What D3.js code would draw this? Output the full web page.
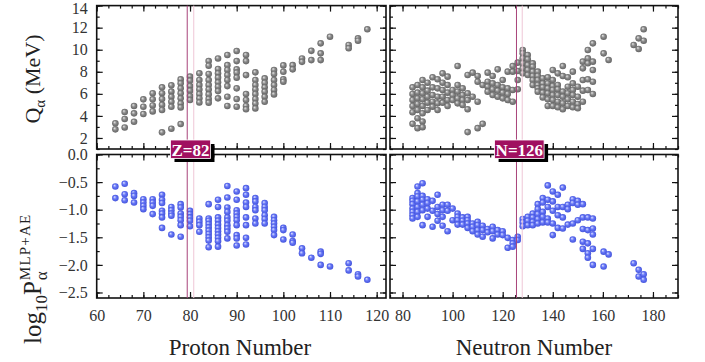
<!DOCTYPE html>
<html>
<head>
<meta charset="utf-8">
<script src="https://cdn.jsdelivr.net/npm/d3@7"></script>
<style>
  body { margin: 0; background: #fff; }
  svg text { font-family: "Liberation Serif", "DejaVu Serif", serif; }
</style>
</head>
<body>
<div class="chart"></div>
<script>

// each entry: [proton or neutron number, [values...]]
var protonQ = [
  [64, [3.33, 2.78]], [66, [4.35, 3.72, 2.95]], [68, [4.9, 4.23, 3.47]],
  [70, [5.5, 4.83, 4.17]], [72, [6.05, 5.5, 4.95, 4.41]],
  [74, [6.59, 6.05, 5.53, 5.0, 4.53, 2.51]], [76, [6.77, 6.2, 5.73, 5.28, 4.83, 2.84]],
  [78, [7.31, 6.95, 6.5, 6.05, 5.59, 5.13, 4.77, 3.26]],
  [80, [7.56, 7.2, 6.7, 6.29, 5.8, 5.44]],
  [82, [7.86, 7.25, 6.8, 6.4, 5.98, 5.59, 5.22]],
  [84, [8.97, 8.55, 7.8, 7.25, 6.8, 6.4, 5.95, 5.53, 5.2]],
  [86, [9.21, 8.25, 7.86, 7.47, 7.04, 6.65, 6.25, 5.59]],
  [88, [9.52, 8.6, 8.16, 7.7, 7.25, 6.7, 5.73, 4.9]],
  [90, [9.88, 8.97, 8.22, 7.92, 7.47, 6.5, 5.53, 4.83]],
  [92, [9.52, 8.97, 7.7, 5.98, 5.44, 4.9, 4.6]],
  [94, [7.95, 7.25, 6.8, 6.4, 5.98, 5.53, 5.13, 4.68]],
  [96, [7.4, 7.0, 6.59, 6.2, 5.73, 5.28]],
  [98, [8.16, 7.8, 7.25, 6.8, 6.35, 5.95]],
  [100, [8.58, 8.0, 7.31, 7.1]], [102, [8.6, 8.22]], [104, [9.21, 8.9]],
  [106, [9.9, 9.06]], [108, [10.58, 9.67, 9.06]], [110, [11.18]],
  [114, [10.43, 10.13]], [116, [11.03, 10.82]], [118, [11.85]]
];

var protonP = [
  [64, [-0.58, -0.79]], [66, [-0.53, -0.72, -0.83]], [68, [-0.70, -0.75, -0.87]],
  [70, [-0.81, -0.87, -0.93, -0.99]], [72, [-0.81, -0.87, -0.93, -1.08]],
  [74, [-0.73, -0.82, -0.88, -1.02, -1.07, -1.14, -1.33]],
  [76, [-0.95, -1.01, -1.07, -1.11, -1.45]],
  [78, [-0.90, -0.96, -1.07, -1.13, -1.19, -1.28, -1.49]],
  [80, [-1.02, -1.08, -1.14, -1.20, -1.30]],
  [82, [-1.16, -1.22, -1.28, -1.40]],
  [84, [-0.90, -1.16, -1.20, -1.26, -1.32, -1.38, -1.44, -1.50, -1.56, -1.68]],
  [86, [-0.82, -0.95, -1.14, -1.20, -1.27, -1.33, -1.39, -1.45, -1.51, -1.57, -1.67]],
  [88, [-0.57, -0.78, -0.96, -1.04, -1.14, -1.20, -1.28, -1.34, -1.40, -1.52]],
  [90, [-0.67, -0.82, -1.01, -1.07, -1.13, -1.19, -1.28, -1.46, -1.52, -1.65]],
  [92, [-0.61, -0.73, -0.87, -0.95, -1.14, -1.28, -1.51, -1.63]],
  [94, [-0.79, -0.85, -0.95, -1.01, -1.16, -1.25]],
  [96, [-0.88, -0.95, -1.01, -1.10, -1.17, -1.25]],
  [98, [-1.13, -1.19, -1.25, -1.31, -1.37, -1.46]],
  [100, [-1.33, -1.37, -1.54]], [102, [-1.45, -1.57, -1.60]],
  [104, [-1.70, -1.79]], [106, [-1.87]], [108, [-1.76, -1.80, -2.00]],
  [110, [-2.03]], [114, [-1.97, -2.10]], [116, [-2.17, -2.21]], [118, [-2.27]]
];

var neutronQ = [
  [84, [6.59, 5.99, 5.44, 4.90, 4.33, 3.28]],
  [86, [6.80, 6.11, 5.59, 5.08, 4.54, 3.79, 2.89]],
  [88, [7.25, 6.59, 6.05, 5.50, 4.90, 4.24, 3.49, 2.98]],
  [90, [7.01, 6.29, 5.74, 5.20, 4.54]],
  [92, [7.50, 6.59, 5.89, 5.29, 4.84]],
  [94, [7.32, 6.50, 5.74, 5.14, 4.54]],
  [96, [7.86, 7.01, 6.35, 5.74, 5.20]],
  [98, [7.56, 6.80, 6.11, 5.44, 4.90]],
  [100, [6.35, 5.89, 5.44]],
  [102, [8.52, 6.80, 6.20, 5.59, 5.14]],
  [104, [6.50, 5.89, 5.44, 4.99]],
  [106, [7.71, 6.05, 5.44, 4.60, 2.53]],
  [108, [7.92, 5.74]],
  [110, [7.62, 7.10, 5.29, 2.89]],
  [112, [6.80, 3.28]],
  [114, [7.92, 7.10, 6.65, 6.20]],
  [116, [7.62, 6.95, 6.41, 5.89]],
  [118, [8.22, 6.80, 6.29, 5.74]],
  [120, [7.25, 6.59, 6.11, 5.59]],
  [122, [8.01, 6.50, 5.99, 5.44]],
  [124, [8.52, 8.01, 6.35, 5.29]],
  [126, [8.83, 8.07, 7.25, 6.41]],
  [128, [9.97, 9.67, 9.22, 8.77, 8.31, 7.86]],
  [130, [9.52, 9.13, 8.61, 8.16, 7.71]],
  [132, [8.77, 8.46, 8.01, 7.62, 7.25, 6.80]],
  [134, [8.01, 7.62, 7.25, 6.80, 6.50, 6.20]],
  [136, [7.41, 6.95, 6.59, 6.11, 5.68]],
  [138, [7.50, 6.95, 6.50, 6.05, 5.50, 4.90]],
  [140, [8.16, 7.25, 6.71, 6.35, 5.89, 5.44, 4.90]],
  [142, [7.86, 6.80, 6.41, 5.89, 5.29, 4.78]],
  [144, [8.52, 7.62, 6.20, 5.74, 5.14, 4.60]],
  [146, [7.50, 6.65, 6.05, 5.50, 4.90]],
  [148, [8.01, 6.95, 6.35, 5.89, 5.29, 4.78]],
  [150, [6.65, 5.74, 5.08, 4.69]],
  [152, [8.92, 8.31, 7.25, 6.29, 5.29]],
  [154, [9.97, 9.22, 8.77, 7.32, 6.35]],
  [156, [10.58, 8.92, 8.16, 7.10, 5.99]],
  [160.3, [11.18, 9.67]], [162.3, [9.07]],
  [172.3, [10.43]], [174.3, [11.03, 10.07]], [176.3, [11.85, 10.82]]
];

var neutronP = [
  [84, [-0.79, -0.84, -0.90, -0.98, -1.04, -1.10, -1.16]],
  [86, [-0.58, -0.70, -0.76, -0.85, -0.95, -1.04, -1.13]],
  [88, [-0.52, -0.75, -0.82, -0.91, -1.01, -1.28]],
  [90, [-0.81, -0.88, -0.98, -1.13]],
  [92, [-0.84, -1.02, -1.31]],
  [94, [-0.73, -0.95, -1.08, -1.20]],
  [96, [-0.91, -1.01, -1.13, -1.29]],
  [98, [-0.91, -1.02, -1.39]],
  [100, [-0.98, -1.19]],
  [102, [-1.07, -1.13, -1.19, -1.27]],
  [104, [-1.14, -1.20, -1.27]],
  [106, [-1.13, -1.19, -1.25, -1.33]],
  [108, [-1.25, -1.31, -1.39]],
  [110, [-1.22, -1.28, -1.37, -1.45]],
  [112, [-1.29, -1.37, -1.49]],
  [114, [-1.35, -1.41]],
  [116, [-1.31, -1.39, -1.52]],
  [118, [-1.37, -1.45]],
  [120, [-1.39, -1.46]],
  [122, [-1.51, -1.69]],
  [124, [-1.55, -1.61, -1.67]],
  [126, [-1.49, -1.55]],
  [128, [-1.17, -1.23, -1.30]],
  [130, [-1.13, -1.20, -1.28]],
  [132, [-1.07, -1.14, -1.22, -1.28]],
  [134, [-0.90, -0.99, -1.08, -1.17, -1.25]],
  [136, [-0.79, -0.87, -1.04, -1.13, -1.23]],
  [138, [-0.56, -0.82, -0.95, -1.16, -1.23]],
  [140, [-0.67, -0.85, -1.02, -1.25, -1.46]],
  [142, [-0.73, -0.95, -1.10, -1.33]],
  [144, [-0.60, -0.95, -1.14, -1.34]],
  [146, [-0.91, -0.99, -1.27]],
  [148, [-0.81, -0.88, -1.25, -1.54]],
  [150, [-0.84, -0.91, -1.19]],
  [152, [-0.90, -1.14, -1.35, -1.58, -1.71]],
  [154, [-1.14, -1.37, -1.61, -1.79, -1.87]],
  [156, [-1.16, -1.34, -1.45, -1.71, -2.00]],
  [160.3, [-1.76, -2.03]], [162.3, [-1.81]],
  [172.3, [-1.97]], [174.3, [-2.09, -2.21]], [176.3, [-2.17, -2.27]]
];

var protonTicks = [60, 70, 80, 90, 100, 110, 120];
var neutronTicks = [80, 100, 120, 140, 160, 180];
var qTicks = [2, 4, 6, 8, 10, 12, 14];
var pTicks = [0, -0.5, -1.0, -1.5, -2.0, -2.5];

var protonLines = [79.4, 80.8];
var neutronLines = [125.5, 127.8];
var shellLabels = ["Z=82", "N=126"];

var svg = d3.select(".chart").append("svg")
    .attr("width", 705)
    .attr("height", 362);

var defs = svg.append("defs");
makeBall("ballGray", "#e8e8e8", "#8a8a8a", "#5e5e5e");
makeBall("ballBlue", "#dfe3ff", "#6676f6", "#3f4fd8");

var xProton = d3.scaleLinear().domain([60, 122]).range([96.7, 386]);
var xNeutron = d3.scaleLinear().domain([75, 190]).range([390, 678]);
var yQ = d3.scaleLinear().domain([1, 14]).range([149, 5.6]);
var yP = d3.scaleLinear().domain([-2.6, 0]).range([298, 154.5]);

drawPanel(xProton, yQ, protonQ, "ballGray", d3.range(60, 122.1, 2.5), protonTicks, false, d3.range(1, 14.1, 1), qTicks, true, d3.format("d"));
drawPanel(xNeutron, yQ, neutronQ, "ballGray", d3.range(75, 190.1, 5), neutronTicks, false, d3.range(1, 14.1, 1), qTicks, false, null);
drawPanel(xProton, yP, protonP, "ballBlue", d3.range(60, 122.1, 2.5), protonTicks, true, d3.range(-2.5, 0.01, 0.25), pTicks, true, d3.format(".1f"));
drawPanel(xNeutron, yP, neutronP, "ballBlue", d3.range(75, 190.1, 5), neutronTicks, true, d3.range(-2.5, 0.01, 0.25), pTicks, false, null);

// keep the top "14" inside the page
svg.selectAll(".ylab .tick text")
    .filter(function(d){ return d === 14; })
    .attr("dy", "0.5em");

drawShell(xProton, protonLines, shellLabels[0]);
drawShell(xNeutron, neutronLines, shellLabels[1]);

// axis titles
svg.append("text")
    .attr("x", 240).attr("y", 355)
    .attr("text-anchor", "middle")
    .attr("font-size", 23)
    .attr("fill", "#222")
    .text("Proton Number");

svg.append("text")
    .attr("x", 534).attr("y", 355)
    .attr("text-anchor", "middle")
    .attr("font-size", 23)
    .attr("fill", "#222")
    .text("Neutron Number");

var qTitle = svg.append("text")
    .attr("transform", "translate(40,79) rotate(-90)")
    .attr("text-anchor", "middle")
    .attr("font-size", 22)
    .attr("fill", "#222");
qTitle.append("tspan").text("Q");
qTitle.append("tspan").attr("dy", 5).attr("font-size", 15).text("α");
qTitle.append("tspan").attr("dy", -5).text(" (MeV)");

var pg = svg.append("g")
    .attr("transform", "translate(41,344) rotate(-90)");
var pMain = pg.append("text")
    .attr("font-size", 25)
    .attr("fill", "#222");
pMain.append("tspan").text("log");
pMain.append("tspan").attr("dy", 6).attr("font-size", 17).text("10");
pMain.append("tspan").attr("dy", -6).text("P");
var pLen = pMain.node().getComputedTextLength();
pg.append("text")
    .attr("x", pLen + 1).attr("y", -11)
    .attr("font-size", 15)
    .attr("letter-spacing", 1.2)
    .attr("fill", "#222")
    .text("MLP+AE");
pg.append("text")
    .attr("x", pLen + 1).attr("y", 6)
    .attr("font-size", 17)
    .attr("fill", "#222")
    .text("α");


function makeBall(id, hi, mid, lo){
  var g = defs.append("radialGradient")
      .attr("id", id)
      .attr("cx", "50%").attr("cy", "50%").attr("r", "55%")
      .attr("fx", "35%").attr("fy", "32%");
  g.append("stop").attr("offset", "0%").attr("stop-color", hi);
  g.append("stop").attr("offset", "45%").attr("stop-color", mid);
  g.append("stop").attr("offset", "100%").attr("stop-color", lo);
}


function drawPanel(x, y, data, fill, xMinor, xMajor, xLabels, yMinor, yMajor, yLabels, yFmt){

  var x0 = x.range()[0], x1 = x.range()[1];
  var y0 = y.range()[1], y1 = y.range()[0];
  var g = svg.append("g");

  var pts = [];
  data.forEach(function(d){
    d[1].forEach(function(v){ pts.push([d[0], v]); });
  });

  g.selectAll("circle")
      .data(pts)
      .enter().append("circle")
      .attr("cx", function(d){ return x(d[0]); })
      .attr("cy", function(d){ return y(d[1]); })
      .attr("r", 3.3)
      .style("fill", "url(#" + fill + ")");

  // minor ticks, all four sides
  g.append("g").attr("transform", "translate(0," + y1 + ")")
      .call(d3.axisBottom(x).tickValues(xMinor).tickSize(-3).tickFormat(""));
  g.append("g").attr("transform", "translate(0," + y0 + ")")
      .call(d3.axisTop(x).tickValues(xMinor).tickSize(-3).tickFormat(""));
  g.append("g").attr("transform", "translate(" + x0 + ",0)")
      .call(d3.axisLeft(y).tickValues(yMinor).tickSize(-3).tickFormat(""));
  g.append("g").attr("transform", "translate(" + x1 + ",0)")
      .call(d3.axisRight(y).tickValues(yMinor).tickSize(-3).tickFormat(""));

  // major ticks
  g.append("g").attr("class", "xlab").attr("transform", "translate(0," + y1 + ")")
      .call(d3.axisBottom(x).tickValues(xMajor).tickSize(-6).tickPadding(12)
        .tickFormat(xLabels ? d3.format("d") : ""));
  g.append("g").attr("transform", "translate(0," + y0 + ")")
      .call(d3.axisTop(x).tickValues(xMajor).tickSize(-6).tickFormat(""));
  g.append("g").attr("class", "ylab").attr("transform", "translate(" + x0 + ",0)")
      .call(d3.axisLeft(y).tickValues(yMajor).tickSize(-6).tickPadding(9)
        .tickFormat(yLabels ? yFmt : ""));
  g.append("g").attr("transform", "translate(" + x1 + ",0)")
      .call(d3.axisRight(y).tickValues(yMajor).tickSize(-6).tickFormat(""));

  g.selectAll(".domain").remove();
  g.selectAll(".tick line").attr("stroke", "#111").attr("stroke-width", 1.2);
  g.selectAll(".tick text")
      .attr("font-family", "Liberation Serif")
      .attr("font-size", 16)
      .attr("fill", "#333");

  g.append("rect")
      .attr("x", x0).attr("y", y0)
      .attr("width", x1 - x0).attr("height", y1 - y0)
      .attr("fill", "none")
      .attr("stroke", "#111")
      .attr("stroke-width", 1.6);
}


function drawShell(x, lines, label){

  var g = svg.append("g");

  g.append("line")
      .attr("x1", x(lines[0])).attr("x2", x(lines[0]))
      .attr("y1", yQ.range()[1]).attr("y2", yP.range()[0])
      .attr("stroke", "#a8437a").attr("stroke-width", 1);

  g.append("line")
      .attr("x1", x(lines[1])).attr("x2", x(lines[1]))
      .attr("y1", yQ.range()[1]).attr("y2", yP.range()[0])
      .attr("stroke", "#efc6d6").attr("stroke-width", 1);

  var cx = (x(lines[0]) + x(lines[1])) / 2;
  var w = label.length * 9.5 + 2;

  g.append("rect")
      .attr("x", cx - w / 2 + 4).attr("y", 144)
      .attr("width", w).attr("height", 18)
      .attr("fill", "#000");

  g.append("rect")
      .attr("x", cx - w / 2).attr("y", 140)
      .attr("width", w).attr("height", 18.5)
      .attr("fill", "#a01060")
      .attr("stroke", "#fff")
      .attr("stroke-width", 0.8);

  g.append("text")
      .attr("x", cx).attr("y", 155.5)
      .attr("text-anchor", "middle")
      .attr("font-size", 17)
      .attr("font-weight", "bold")
      .attr("fill", "#fff")
      .text(label);
}

</script>
</body>
</html>
